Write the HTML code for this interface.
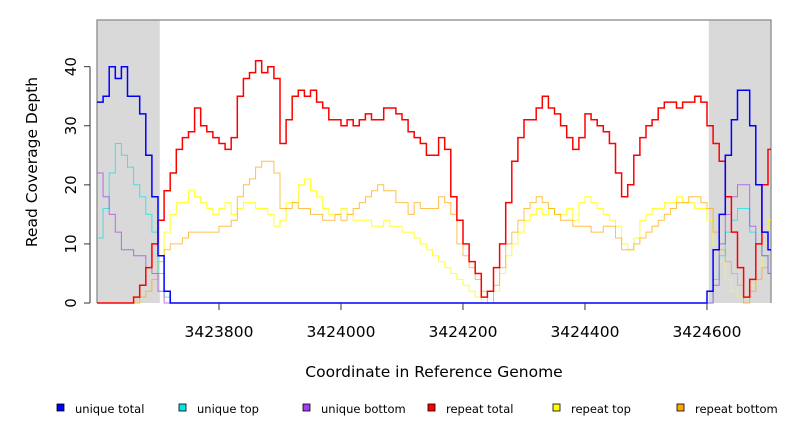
<!DOCTYPE html>
<html><head><meta charset="utf-8"><style>
body{margin:0;background:#fff;}
svg{display:block;font-family:"DejaVu Sans","Liberation Sans",sans-serif;}
</style></head><body>
<svg id="chart" width="792" height="432" viewBox="0 0 792 432" xmlns="http://www.w3.org/2000/svg">
<g id="plot"></g>
</svg>
<script>
const startCoord = 3423600;
const stepCoord = 10;
const xTicks = [3423800, 3424000, 3424200, 3424400, 3424600];
const yTicks = [0, 10, 20, 30, 40];
const shadeRegions = [[3423600, 3423703], [3424603, 3424705]];
const seriesNames = ["unique total","unique top","unique bottom","repeat total","repeat top","repeat bottom"];
const seriesColors = ["#0000ff","#00e5e5","#a040f0","#ff0000","#ffff00","#ffa500"];
const uniqueTotal = [34,35,40,38,40,35,35,32,25,18,8,2,0,0,0,0,0,0,0,0,0,0,0,0,0,0,0,0,0,0,0,0,0,0,0,0,0,0,0,0,0,0,0,0,0,0,0,0,0,0,0,0,0,0,0,0,0,0,0,0,0,0,0,0,0,0,0,0,0,0,0,0,0,0,0,0,0,0,0,0,0,0,0,0,0,0,0,0,0,0,0,0,0,0,0,0,0,0,0,0,2,9,15,25,31,36,36,30,20,12,9];
const uniqueTop = [11,16,22,27,25,23,20,18,15,12,5,1,0,0,0,0,0,0,0,0,0,0,0,0,0,0,0,0,0,0,0,0,0,0,0,0,0,0,0,0,0,0,0,0,0,0,0,0,0,0,0,0,0,0,0,0,0,0,0,0,0,0,0,0,0,0,0,0,0,0,0,0,0,0,0,0,0,0,0,0,0,0,0,0,0,0,0,0,0,0,0,0,0,0,0,0,0,0,0,0,0,4,8,12,14,16,16,12,10,8,5];
const uniqueBottom = [22,18,15,12,9,9,8,8,6,5,2,0,0,0,0,0,0,0,0,0,0,0,0,0,0,0,0,0,0,0,0,0,0,0,0,0,0,0,0,0,0,0,0,0,0,0,0,0,0,0,0,0,0,0,0,0,0,0,0,0,0,0,0,0,0,0,0,0,0,0,0,0,0,0,0,0,0,0,0,0,0,0,0,0,0,0,0,0,0,0,0,0,0,0,0,0,0,0,0,0,0,3,10,15,18,20,20,13,10,8,5];
const repeatTotal = [0,0,0,0,0,0,1,3,6,10,14,19,22,26,28,29,33,30,29,28,27,26,28,35,38,39,41,39,40,38,27,31,35,36,35,36,34,33,31,31,30,31,30,31,32,31,31,33,33,32,31,29,28,27,25,25,28,26,18,14,10,7,5,1,2,6,10,17,24,28,31,31,33,35,33,32,30,28,26,28,32,31,30,29,27,22,18,20,25,28,30,31,33,34,34,33,34,34,35,34,30,27,24,18,12,6,1,4,10,20,26];
const repeatTop = [0,0,0,0,0,0,0,3,5,6,8,12,15,17,17,19,18,17,16,15,16,17,15,16,17,17,16,16,15,13,14,17,17,20,21,19,18,16,15,15,16,15,14,14,14,13,13,14,13,13,12,12,11,10,9,8,7,6,5,4,3,2,1,0,0,2,5,8,10,12,14,15,16,15,16,15,15,16,14,17,18,17,16,15,14,13,10,9,11,14,15,16,16,17,17,18,17,17,16,16,14,10,7,4,2,1,1,3,6,10,14];
const repeatBottom = [0,0,0,0,0,0,0,1,2,4,7,9,10,10,11,12,12,12,12,12,13,13,14,18,20,21,23,24,24,22,16,16,17,16,16,15,15,14,14,15,14,15,16,17,18,19,20,19,19,17,17,15,17,16,16,16,18,17,15,10,8,6,4,2,0,3,6,10,12,14,16,17,18,17,16,15,14,14,13,13,13,12,12,13,13,11,9,9,10,11,12,13,14,15,16,17,17,18,18,17,16,12,9,7,5,3,0,2,4,6,8];

const X0 = 97, X1 = 771, Y0 = 303, Y1 = 20;
const xMin = 3423600, xMax = 3424705, yMax = 47.9;
const xs = c => X0 + (c - xMin) / (xMax - xMin) * (X1 - X0);
const ys = v => Y0 - v / yMax * (Y0 - Y1);
const NS = "http://www.w3.org/2000/svg";
const svg = document.getElementById('chart');
function mk(tag, attrs, parent) {
  const e = document.createElementNS(NS, tag);
  for (const k in attrs) e.setAttribute(k, attrs[k]);
  (parent || svg).appendChild(e);
  return e;
}
shadeRegions.forEach((r, i) => {
  const e = mk('rect', {x: xs(r[0]), y: Y1, width: xs(r[1]) - xs(r[0]), height: Y0 - Y1, fill: '#d9d9d9'});
  
  
});
const border = mk('path', {d: `M${X0} ${Y0}V${Y1}H${X1}V${Y0}`, fill: 'none', stroke: '#999', 'stroke-width': 1.5});



const allSeries = [uniqueTotal, uniqueTop, uniqueBottom, repeatTotal, repeatTop, repeatBottom];
const widths = [1.5, 1, 1, 1.5, 1, 1];
const opac = [1, 0.7, 0.7, 1, 0.8, 0.7];
const drawOrder = [4, 5, 1, 2, 3, 0];
drawOrder.forEach(si => {
  const data = allSeries[si];
  let d = '';
  data.forEach((v, i) => {
    const x = xs(startCoord + i * stepCoord), y = ys(v);
    if (i === 0) d += `M${x.toFixed(1)} ${y.toFixed(1)}`;
    else d += `H${x.toFixed(1)}V${y.toFixed(1)}`;
  });
  d += `H${X1}`;
  const p = mk('path', {d, fill: 'none', stroke: seriesColors[si], 'stroke-width': widths[si], 'stroke-opacity': opac[si]});
  
  
});

const ya = mk('line', {x1: 90, x2: 90, y1: ys(0), y2: ys(40), stroke: '#333'});


yTicks.forEach(t => {
  mk('line', {x1: 84, x2: 90, y1: ys(t), y2: ys(t), stroke: '#333'});
  const tx = mk('text', {x: 0, y: 0, 'font-size': 15, 'text-anchor': 'middle', transform: `translate(76 ${ys(t)}) rotate(-90)`, fill: '#000'});
  tx.textContent = t;
  
  
});
xTicks.forEach(t => {
  mk('line', {x1: xs(t), x2: xs(t), y1: 303, y2: 310, stroke: '#333'});
  const tx = mk('text', {x: xs(t), y: 337, 'font-size': 15.5, 'text-anchor': 'middle', fill: '#000'});
  tx.textContent = t;
  
  
});
const yt = mk('text', {x: 0, y: 0, 'font-size': 15.5, 'text-anchor': 'middle', transform: 'translate(37 162) rotate(-90)'});
yt.textContent = 'Read Coverage Depth';


const xt = mk('text', {x: 434, y: 377, 'font-size': 15.5, 'text-anchor': 'middle'});
xt.textContent = 'Coordinate in Reference Genome';



const legX = [57, 179, 303, 428, 553, 677];
seriesNames.forEach((n, i) => {
  const g = mk('g', {});
  
  
  mk('rect', {x: legX[i], y: 404, width: 7, height: 7, fill: seriesColors[i], stroke: '#000', 'stroke-width': 0.8}, g);
  const t = mk('text', {x: legX[i] + 18, y: 413, 'font-size': 11.5}, g);
  t.textContent = n;
});
</script>
</body></html>
